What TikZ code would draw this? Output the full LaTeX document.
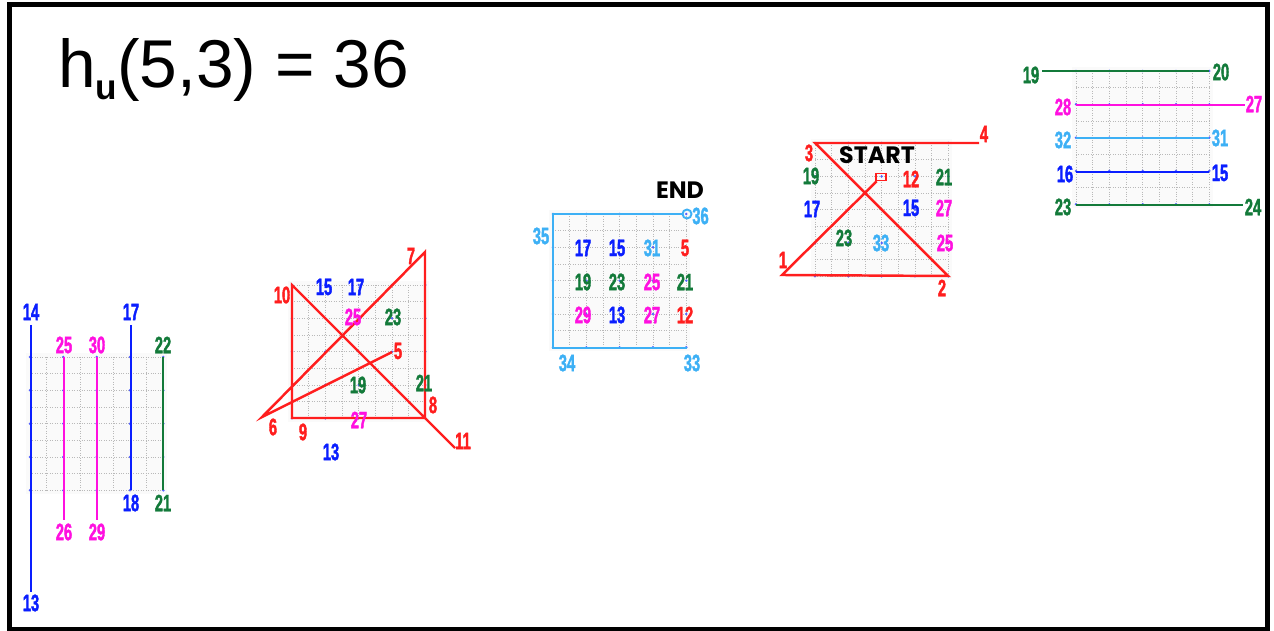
\documentclass[tikz,border=0pt]{standalone}
\usepackage{fontspec}
\setmainfont{Liberation Sans}
\newfontfamily\numfont[FakeStretch=0.62,FakeBold=1.6]{Liberation Sans}
\newfontfamily\wordfont{Poppins}
\usetikzlibrary{positioning}

\definecolor{hred}{HTML}{FF1E1E}
\definecolor{hblue}{HTML}{0A1EFF}
\definecolor{hpink}{HTML}{FF10E0}
\definecolor{hgreen}{HTML}{137A3A}
\definecolor{hsky}{HTML}{3DB0F5}

% 8x8 dotted grid, cells of 16.667px, with a dot every two cells
\newcommand{\hgrid}[2]{%
  \fill[gray!4] (#1-4,#2-4) rectangle (#1+137,#2+137);
  \foreach \i in {0,...,8}{
    \draw[gridline] (#1+\i*16.667,#2) -- (#1+\i*16.667,#2+133.33);
    \draw[gridline] (#1,#2+\i*16.667) -- (#1+133.33,#2+\i*16.667);
  }
  \foreach \i in {0,...,4}
    \foreach \j in {0,...,4}
      \fill[hblue!70] (#1+\i*33.33,#2+\j*33.33) circle (1.4);
}

\begin{document}
\begin{tikzpicture}[x=0.02cm, y=-0.02cm,
    num/.style={font=\numfont\bfseries\fontsize{13.5}{14}\selectfont, inner sep=0pt},
    word/.style={font=\wordfont\bfseries\fontsize{13.5}{14}\selectfont, inner sep=0pt},
    walk/.style={line width=1.4pt},
    gridline/.style={gray!55, densely dotted, line width=0.4pt}]

    \useasboundingbox (0,0) rectangle (1274,631);
    \draw[line width=2.4pt] (9.5,4.5) rectangle (1267.5,629);

    % Title
    \node[anchor=base west, inner sep=0pt, font=\fontsize{38.5}{44}\selectfont] (title) at (58,88)
        {h\raisebox{-6.8pt}{\fontsize{20}{20}\selectfont\bfseries u}(5,3) = 36};

    % Panel 1: vertical strips
    \hgrid{30}{357}
    \coordinate (a14) at (31,325);   \coordinate (a13) at (31,592);
    \coordinate (a25) at (64,357);   \coordinate (a26) at (64,520);
    \coordinate (a30) at (97,357);   \coordinate (a29) at (97,520);
    \coordinate (a17) at (131,325);  \coordinate (a18) at (131,490);
    \coordinate (a22) at (163,357);  \coordinate (a21) at (163,490);
    \draw[walk, hblue] (a14) -- (a13);
    \draw[walk, hpink] (a25) -- (a26);
    \draw[walk, hpink] (a30) -- (a29);
    \draw[walk, hblue] (a17) -- (a18);
    \draw[walk, hgreen] (a22) -- (a21);
    \node[num, hblue] (n14) at (31,312) {14};
    \node[num, hblue] (n13) at (31,603) {13};
    \node[num, hpink] (n25) at (64,345) {25};
    \node[num, hpink] (n26) at (64,532) {26};
    \node[num, hpink] (n30) at (97,345) {30};
    \node[num, hpink] (n29) at (97,532) {29};
    \node[num, hblue] (n17) at (131,312) {17};
    \node[num, hblue] (n18) at (131,503) {18};
    \node[num, hgreen] (n22) at (163,345) {22};
    \node[num, hgreen] (n21) at (163,503) {21};

    % Panel 2: red walk 5 to 11
    \hgrid{292}{285}
    \coordinate (b5) at (392,352);
    \coordinate (b6) at (262,417);
    \coordinate (b7) at (425,252);
    \coordinate (b8) at (425,418);
    \coordinate (b9) at (292,418);
    \coordinate (b10) at (292,285);
    \coordinate (b11) at (455,448);
    \draw[walk, hred] (b5) -- (b6) -- (b7) -- (b8) -- (b9) -- (b10) -- (b11);
    \node[num, hred] (m5) at (398,351) {5};
    \node[num, hred] (m6) at (273,427) {6};
    \node[num, hred] (m7) at (411,256) {7};
    \node[num, hred] (m8) at (433,405) {8};
    \node[num, hred] (m9) at (303,432) {9};
    \node[num, hred] (m10) at (282,295) {10};
    \node[num, hred] (m11) at (463,441) {11};
    \node[num, hblue] (m15) at (324,287) {15};
    \node[num, hblue] (m17) at (356,287) {17};
    \node[num, hpink] (m25) at (353,317) {25};
    \node[num, hgreen] (m23) at (393,317) {23};
    \node[num, hgreen] (m19) at (358,385) {19};
    \node[num, hgreen] (m21) at (424,383) {21};
    \node[num, hpink] (m27) at (359,420) {27};
    \node[num, hblue] (m13) at (331,452) {13};

    % Panel 3: the end of the walk
    \hgrid{553}{214}
    \coordinate (c33) at (687,348);
    \coordinate (c34) at (553,348);
    \coordinate (c35) at (553,214);
    \node[circle, draw=hsky, line width=1.1pt, minimum size=0.18cm, inner sep=0pt] (c36) at (687,214) {};
    \draw[walk, hsky] (c33) -- (c34) -- (c35) -- (c36);
    \node[word] (end) at (680,190) {END};
    \node[num, hsky, anchor=west] (k36) at (692,216) {36};
    \node[num, hsky] (k35) at (541,236) {35};
    \node[num, hsky] (k34) at (567,363) {34};
    \node[num, hsky] (k33) at (692,363) {33};
    \node[num, hblue] (k17) at (583,248) {17};
    \node[num, hblue] (k15) at (617,248) {15};
    \node[num, hsky] (k31) at (652,248) {31};
    \node[num, hred] (k5) at (685,248) {5};
    \node[num, hgreen] (k19) at (583,282) {19};
    \node[num, hgreen] (k23) at (617,282) {23};
    \node[num, hpink] (k25) at (652,282) {25};
    \node[num, hgreen] (k21) at (685,282) {21};
    \node[num, hpink] (k29) at (583,315) {29};
    \node[num, hblue] (k13) at (617,315) {13};
    \node[num, hpink] (k27) at (652,315) {27};
    \node[num, hred] (k12) at (685,315) {12};

    % Panel 4: the start of the walk
    \hgrid{815}{143}
    \node[draw=hred, line width=0.9pt, minimum width=0.2cm, minimum height=0.14cm, inner sep=0pt] (d0) at (881,177) {};
    \coordinate (d1) at (782,275);
    \coordinate (d2) at (948,276);
    \coordinate (d3) at (815,143);
    \coordinate (d4) at (979,143);
    \draw[walk, hred] (d0) -- (d1) -- (d2) -- (d3) -- (d4);
    \node[word] (start) at (877,155) {START};
    \node[num, hred] (e1) at (783,260) {1};
    \node[num, hred] (e2) at (942,288) {2};
    \node[num, hred] (e3) at (809,153) {3};
    \node[num, hred] (e4) at (984,134) {4};
    \node[num, hgreen] (e19) at (811,176) {19};
    \node[num, hred] (e12) at (911,179) {12};
    \node[num, hgreen] (e21) at (944,177) {21};
    \node[num, hblue] (e17) at (812,209) {17};
    \node[num, hblue] (e15) at (911,208) {15};
    \node[num, hpink] (e27) at (944,208) {27};
    \node[num, hgreen] (e23) at (844,238) {23};
    \node[num, hsky] (e33) at (881,243) {33};
    \node[num, hpink] (e25) at (945,243) {25};

    % Panel 5: horizontal strips
    \hgrid{1076}{71}
    \coordinate (f19) at (1042,71);  \coordinate (f20) at (1209,71);
    \coordinate (f28) at (1076,105); \coordinate (f27) at (1245,105);
    \coordinate (f32) at (1076,138); \coordinate (f31) at (1209,138);
    \coordinate (f16) at (1076,172); \coordinate (f15) at (1209,172);
    \coordinate (f23) at (1076,205); \coordinate (f24) at (1243,205);
    \draw[walk, hgreen] (f19) -- (f20);
    \draw[walk, hpink] (f28) -- (f27);
    \draw[walk, hsky] (f32) -- (f31);
    \draw[walk, hblue] (f16) -- (f15);
    \draw[walk, hgreen] (f23) -- (f24);
    \node[num, hgreen] (g19) at (1031,75) {19};
    \node[num, hgreen] (g20) at (1221,72) {20};
    \node[num, hpink] (g28) at (1063,107) {28};
    \node[num, hpink] (g27) at (1254,104) {27};
    \node[num, hsky] (g32) at (1063,140) {32};
    \node[num, hsky] (g31) at (1220,138) {31};
    \node[num, hblue] (g16) at (1065,174) {16};
    \node[num, hblue] (g15) at (1220,173) {15};
    \node[num, hgreen] (g23) at (1063,207) {23};
    \node[num, hgreen] (g24) at (1253,207) {24};
\end{tikzpicture}
\end{document}
